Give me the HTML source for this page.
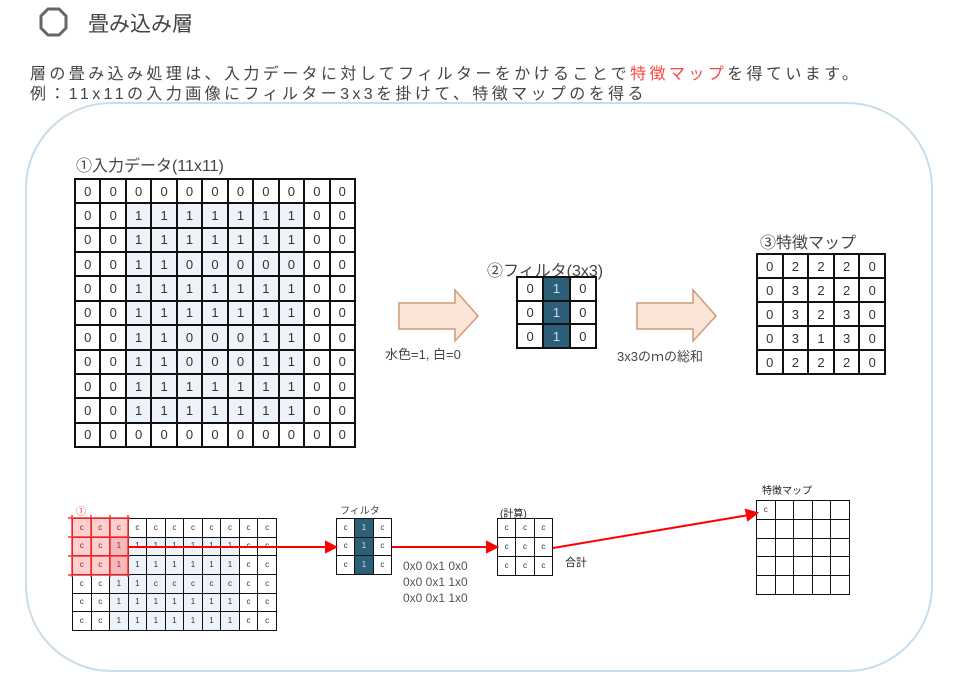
<!DOCTYPE html>
<html><head><meta charset="utf-8"><style>
body{margin:0;width:956px;height:683px;background:#fff;position:relative;overflow:hidden;font-family:"Liberation Sans","Noto Sans CJK JP",sans-serif;color:#444}
.a{position:absolute;white-space:nowrap}
table{position:absolute;border-collapse:collapse;table-layout:fixed}
td{border:2px solid #111;text-align:center;vertical-align:middle;padding:0;color:#333;line-height:1}
.b td{font-size:13px}
.s td{font-size:8px;border-width:1.5px}
.e td{height:17px}
.h{background:#edf3f9}
.f{background:#2d5f78;color:#cde}
</style></head><body>
<svg class="a" style="left:0;top:0" width="956" height="683">
<rect x="26" y="103" width="906" height="568" rx="85" fill="none" stroke="#c8dcea" stroke-width="2"/>
<polygon points="48,9 59,9 66,16 66,28 59,35 48,35 41,28 41,16" fill="none" stroke="#666" stroke-width="3"/>
<polygon points="399,303 455,303 455,290 478,316 455,341 455,329 399,329" fill="#fbe5d6" stroke="#d09a78" stroke-width="1.5"/>
<polygon points="637,303 693,303 693,290 716,316 693,341 693,329 637,329" fill="#fbe5d6" stroke="#d09a78" stroke-width="1.5"/>
</svg>
<div class="a" style="left:88px;top:8px;font-size:21px;color:#444">畳み込み層</div>
<div class="a" style="left:30px;top:60px;font-size:16px;letter-spacing:3.4px">層の畳み込み処理は、入力データに対してフィルターをかけることで<span style="color:#f44">特徴マップ</span>を得ています。</div>
<div class="a" style="left:30px;top:80px;font-size:16px;letter-spacing:3.4px">例：11x11の入力画像にフィルター3x3を掛けて、特徴マップのを得る</div>
<div class="a" style="left:76px;top:152px;font-size:16px">①入力データ(11x11)</div>
<table class="b" style="left:74px;top:178px;width:282px;height:270px">
<tr><td>0</td><td>0</td><td>0</td><td>0</td><td>0</td><td>0</td><td>0</td><td>0</td><td>0</td><td>0</td><td>0</td></tr>
<tr><td>0</td><td>0</td><td class="h">1</td><td class="h">1</td><td class="h">1</td><td class="h">1</td><td class="h">1</td><td class="h">1</td><td class="h">1</td><td>0</td><td>0</td></tr>
<tr><td>0</td><td>0</td><td class="h">1</td><td class="h">1</td><td class="h">1</td><td class="h">1</td><td class="h">1</td><td class="h">1</td><td class="h">1</td><td>0</td><td>0</td></tr>
<tr><td>0</td><td>0</td><td class="h">1</td><td class="h">1</td><td class="h">0</td><td class="h">0</td><td class="h">0</td><td class="h">0</td><td class="h">0</td><td>0</td><td>0</td></tr>
<tr><td>0</td><td>0</td><td class="h">1</td><td class="h">1</td><td class="h">1</td><td class="h">1</td><td class="h">1</td><td class="h">1</td><td class="h">1</td><td>0</td><td>0</td></tr>
<tr><td>0</td><td>0</td><td class="h">1</td><td class="h">1</td><td class="h">1</td><td class="h">1</td><td class="h">1</td><td class="h">1</td><td class="h">1</td><td>0</td><td>0</td></tr>
<tr><td>0</td><td>0</td><td class="h">1</td><td class="h">1</td><td class="h">0</td><td class="h">0</td><td class="h">0</td><td class="h">1</td><td class="h">1</td><td>0</td><td>0</td></tr>
<tr><td>0</td><td>0</td><td class="h">1</td><td class="h">1</td><td class="h">0</td><td class="h">0</td><td class="h">0</td><td class="h">1</td><td class="h">1</td><td>0</td><td>0</td></tr>
<tr><td>0</td><td>0</td><td class="h">1</td><td class="h">1</td><td class="h">1</td><td class="h">1</td><td class="h">1</td><td class="h">1</td><td class="h">1</td><td>0</td><td>0</td></tr>
<tr><td>0</td><td>0</td><td class="h">1</td><td class="h">1</td><td class="h">1</td><td class="h">1</td><td class="h">1</td><td class="h">1</td><td class="h">1</td><td>0</td><td>0</td></tr>
<tr><td>0</td><td>0</td><td>0</td><td>0</td><td>0</td><td>0</td><td>0</td><td>0</td><td>0</td><td>0</td><td>0</td></tr>
</table>
<div class="a" style="left:487px;top:257px;font-size:16px">②フィルタ(3x3)</div>
<table class="b" style="left:516px;top:276px;width:81px;height:73px">
<tr><td>0</td><td class="f">1</td><td>0</td></tr>
<tr><td>0</td><td class="f">1</td><td>0</td></tr>
<tr><td>0</td><td class="f">1</td><td>0</td></tr>
</table>
<div class="a" style="left:385px;top:344px;font-size:13px">水色=1, 白=0</div>
<div class="a" style="left:617px;top:346px;font-size:13px">3x3のｍの総和</div>
<div class="a" style="left:760px;top:229px;font-size:16px">③特徴マップ</div>
<table class="b" style="left:756px;top:253px;width:130px;height:122px">
<tr><td>0</td><td>2</td><td>2</td><td>2</td><td>0</td></tr>
<tr><td>0</td><td>3</td><td>2</td><td>2</td><td>0</td></tr>
<tr><td>0</td><td>3</td><td>2</td><td>3</td><td>0</td></tr>
<tr><td>0</td><td>3</td><td>1</td><td>3</td><td>0</td></tr>
<tr><td>0</td><td>2</td><td>2</td><td>2</td><td>0</td></tr>
</table>
<table class="s" style="left:72px;top:518px;width:205px;height:113px">
<tr><td>c</td><td>c</td><td>c</td><td>c</td><td>c</td><td>c</td><td>c</td><td>c</td><td>c</td><td>c</td><td>c</td></tr>
<tr><td>c</td><td>c</td><td>1</td><td class="h">1</td><td class="h">1</td><td class="h">1</td><td class="h">1</td><td class="h">1</td><td class="h">1</td><td>c</td><td>c</td></tr>
<tr><td>c</td><td>c</td><td>1</td><td class="h">1</td><td class="h">1</td><td class="h">1</td><td class="h">1</td><td class="h">1</td><td class="h">1</td><td>c</td><td>c</td></tr>
<tr><td>c</td><td>c</td><td class="h">1</td><td class="h">1</td><td class="h">c</td><td class="h">c</td><td class="h">c</td><td class="h">c</td><td class="h">c</td><td>c</td><td>c</td></tr>
<tr><td>c</td><td>c</td><td class="h">1</td><td class="h">1</td><td class="h">1</td><td class="h">1</td><td class="h">1</td><td class="h">1</td><td class="h">1</td><td>c</td><td>c</td></tr>
<tr><td>c</td><td>c</td><td class="h">1</td><td class="h">1</td><td class="h">1</td><td class="h">1</td><td class="h">1</td><td class="h">1</td><td class="h">1</td><td>c</td><td>c</td></tr>
</table>
<div class="a" style="left:340px;top:502px;font-size:10px">フィルタ</div>
<table class="s" style="left:336px;top:518px;width:56px;height:57px">
<tr><td>c</td><td class="f">1</td><td>c</td></tr>
<tr><td>c</td><td class="f">1</td><td>c</td></tr>
<tr><td>c</td><td class="f">1</td><td>c</td></tr>
</table>
<div class="a" style="left:500px;top:505px;font-size:10px;color:#222">(計算)</div>
<table class="s" style="left:497px;top:518px;width:56px;height:58px">
<tr><td>c</td><td>c</td><td>c</td></tr>
<tr><td>c</td><td>c</td><td>c</td></tr>
<tr><td>c</td><td>c</td><td>c</td></tr>
</table>
<div class="a" style="left:403px;top:558px;font-size:12px;line-height:16px;color:#555">0x0 0x1 0x0<br>0x0 0x1 1x0<br>0x0 0x1 1x0</div>
<div class="a" style="left:565px;top:554px;font-size:11px;color:#222">合計</div>
<div class="a" style="left:762px;top:482px;font-size:10px;color:#222">特徴マップ</div>
<table class="s e" style="left:756px;top:500px;width:94px;height:95px">
<tr><td>c</td><td></td><td></td><td></td><td></td></tr>
<tr><td></td><td></td><td></td><td></td><td></td></tr>
<tr><td></td><td></td><td></td><td></td><td></td></tr>
<tr><td></td><td></td><td></td><td></td><td></td></tr>
<tr><td></td><td></td><td></td><td></td><td></td></tr>
</table>
<svg class="a" style="left:0;top:0" width="956" height="683">
<rect x="72" y="518" width="56" height="56" fill="rgba(255,60,60,0.25)"/>
<rect x="110" y="537" width="18" height="37" fill="rgba(200,60,80,0.15)"/>
<g stroke="#f33" stroke-width="1.5">
<line x1="68" y1="518" x2="130" y2="518"/><line x1="68" y1="537" x2="130" y2="537"/><line x1="68" y1="556" x2="130" y2="556"/><line x1="68" y1="575" x2="130" y2="575"/>
<line x1="72" y1="515" x2="72" y2="577"/><line x1="91" y1="515" x2="91" y2="577"/><line x1="110" y1="515" x2="110" y2="577"/><line x1="128" y1="515" x2="128" y2="577"/>
</g>
<text x="76" y="515" font-size="10" fill="#f33">①</text>
<g stroke="#f00" stroke-width="2" fill="#f00">
<line x1="128" y1="547" x2="328" y2="547"/><polygon points="336,547 326,542 326,552"/>
<line x1="392" y1="547" x2="489" y2="547"/><polygon points="497,547 487,542 487,552"/>
<line x1="553" y1="548" x2="749" y2="515"/><polygon points="757,513 746,510 748,520"/>
</g>
</svg>
</body></html>
